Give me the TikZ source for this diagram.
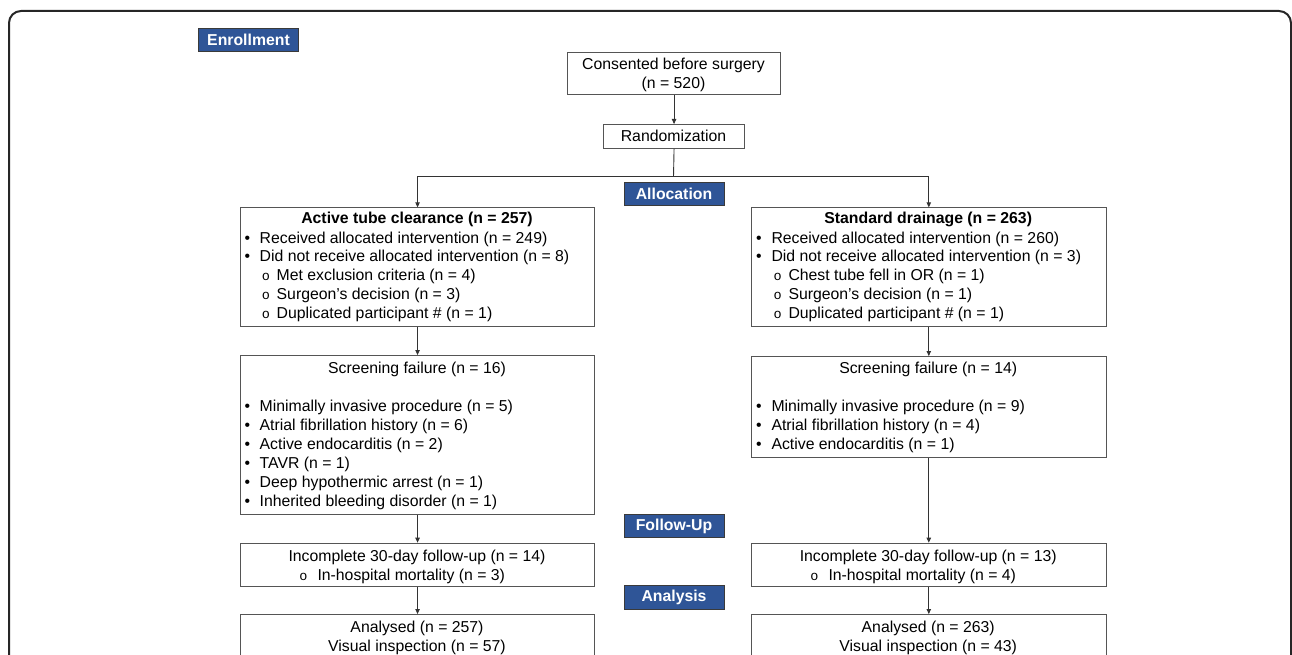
\documentclass[tikz,border=0pt]{standalone}
\usepackage{fontspec}
\setmainfont{Liberation Sans}
\newfontfamily\bulletfont{Liberation Mono}
\usetikzlibrary{arrows.meta}
\definecolor{badgeblue}{HTML}{2F5597}
\definecolor{badgeedge}{HTML}{3A3A3A}
\definecolor{boxgray}{HTML}{555555}
\definecolor{linegray}{HTML}{333333}
\begin{document}
\begin{tikzpicture}[x=1pt,y=-1pt,
  every node/.style={font=\fontsize{15.8}{19}\selectfont},
  box/.style={draw=boxgray,line width=1.1pt,inner sep=0pt,anchor=north west,fill=white},
  badge/.style={draw=badgeedge,line width=1pt,fill=badgeblue,text=white,
    font=\fontsize{15.8}{19}\selectfont\bfseries,inner sep=0pt,
    minimum width=100pt,minimum height=23.5pt},
  arr/.style={draw=linegray,line width=0.9pt,-{Triangle[length=5pt,width=4.5pt]}},
  conn/.style={draw=linegray,line width=0.9pt},
  txt/.style={inner sep=0pt,text height=11.3pt,text depth=0pt,anchor=west},
  ctxt/.style={txt,anchor=center},
  bul/.style={txt,anchor=center},
  sbul/.style={txt,anchor=center,font=\fontsize{13.5}{19}\bulletfont}
]
\clip (0,0) rectangle (1292,655);
\draw[line width=2pt,draw=black!85,rounded corners=12pt] (9,11) rectangle (1291,720);

% badges
\node[badge] (enr) at (248.5,40.2) {Enrollment};
\node[badge] (alloc) at (674,194) {Allocation};
\node[badge] (fup) at (674,526) {Follow-Up};
\node[badge] (anal) at (674,597.4) {Analysis};

% boxes
\node[box,minimum width=213pt,minimum height=42.3pt] (cons) at (567,51.7) {};
\node[box,minimum width=141pt,minimum height=23.7pt] (rand) at (603,124) {};
\node[box,minimum width=354pt,minimum height=118.4pt] (act) at (240,207.3) {};
\node[box,minimum width=354.5pt,minimum height=118.4pt] (std) at (751,207.3) {};
\node[box,minimum width=354pt,minimum height=159.3pt] (scrL) at (240,355) {};
\node[box,minimum width=354.5pt,minimum height=101pt] (scrR) at (751,356) {};
\node[box,minimum width=354pt,minimum height=43pt] (incL) at (240,542.7) {};
\node[box,minimum width=354.5pt,minimum height=43pt] (incR) at (751,542.7) {};
\node[box,minimum width=354pt,minimum height=100pt] (anaL) at (240,614) {};
\node[box,minimum width=354.5pt,minimum height=100pt] (anaR) at (751,614) {};

% connectors
\coordinate (split) at (673.5,176.7);
\draw[arr] (cons.south) -- (rand.north);
\draw[conn] (rand.south) -- (split);
\draw[arr] (split) -| (act.north);
\draw[arr] (split) -| (std.north);
\draw[arr] (act.south) -- (scrL.north);
\draw[arr] (std.south) -- (scrR.north);
\draw[arr] (scrL.south) -- (incL.north);
\draw[arr] (scrR.south) -- (incR.north);
\draw[arr] (incL.south) -- (anaL.north);
\draw[arr] (incR.south) -- (anaR.north);

% text: top
\node[ctxt] (t1) at (673.5,64) {Consented before surgery};
\node[ctxt] (t2) at (673.5,83) {(n = 520)};
\node[ctxt] (t3) at (673.5,136) {Randomization};

% active box
\node[ctxt,font=\fontsize{15.8}{19}\selectfont\bfseries] (a0) at (417,218) {Active tube clearance (n = 257)};
\node[bul] (ab1) at (247.5,237.5) {•};
\node[txt] (a1) at (259.5,237.5) {Received allocated intervention (n = 249)};
\node[bul] (ab2) at (247.5,256.3) {•};
\node[txt] (a2) at (259.5,256.3) {Did not receive allocated intervention (n = 8)};
\node[sbul] (as1) at (266,275.2) {o};
\node[txt] (a3) at (276.5,275.2) {Met exclusion criteria (n = 4)};
\node[sbul] (as2) at (266,294.2) {o};
\node[txt] (a4) at (276.5,294.2) {Surgeon’s decision (n = 3)};
\node[sbul] (as3) at (266,313.2) {o};
\node[txt] (a5) at (276.5,313.2) {Duplicated participant \# (n = 1)};

% standard box
\node[ctxt,font=\fontsize{15.8}{19}\selectfont\bfseries] (s0) at (928.2,218) {Standard drainage (n = 263)};
\node[bul] (sb1) at (759,237.5) {•};
\node[txt] (s1) at (771.3,237.5) {Received allocated intervention (n = 260)};
\node[bul] (sb2) at (759,256.3) {•};
\node[txt] (s2) at (771.3,256.3) {Did not receive allocated intervention (n = 3)};
\node[sbul] (ss1) at (777.7,275.2) {o};
\node[txt] (s3) at (788.3,275.2) {Chest tube fell in OR (n = 1)};
\node[sbul] (ss2) at (777.7,294.2) {o};
\node[txt] (s4) at (788.3,294.2) {Surgeon’s decision (n = 1)};
\node[sbul] (ss3) at (777.7,313.2) {o};
\node[txt] (s5) at (788.3,313.2) {Duplicated participant \# (n = 1)};

% screening left
\node[ctxt] (l0) at (417,368) {Screening failure (n = 16)};
\node[bul] (lb1) at (247.5,406) {•};
\node[txt] (l1) at (259.5,406) {Minimally invasive procedure (n = 5)};
\node[bul] (lb2) at (247.5,425) {•};
\node[txt] (l2) at (259.5,425) {Atrial fibrillation history (n = 6)};
\node[bul] (lb3) at (247.5,444) {•};
\node[txt] (l3) at (259.5,444) {Active endocarditis (n = 2)};
\node[bul] (lb4) at (247.5,463) {•};
\node[txt] (l4) at (259.5,463) {TAVR (n = 1)};
\node[bul] (lb5) at (247.5,482) {•};
\node[txt] (l5) at (259.5,482) {Deep hypothermic arrest (n = 1)};
\node[bul] (lb6) at (247.5,501) {•};
\node[txt] (l6) at (259.5,501) {Inherited bleeding disorder (n = 1)};

% screening right
\node[ctxt] (r0) at (928.2,368) {Screening failure (n = 14)};
\node[bul] (rb1) at (759,406) {•};
\node[txt] (r1) at (771.3,406) {Minimally invasive procedure (n = 9)};
\node[bul] (rb2) at (759,425) {•};
\node[txt] (r2) at (771.3,425) {Atrial fibrillation history (n = 4)};
\node[bul] (rb3) at (759,444) {•};
\node[txt] (r3) at (771.3,444) {Active endocarditis (n = 1)};

% incomplete
\node[ctxt] (il0) at (417,556) {Incomplete 30-day follow-up (n = 14)};
\node[sbul] (ils) at (303.5,575) {o};
\node[txt] (il1) at (317.3,575) {In-hospital mortality (n = 3)};
\node[ctxt] (ir0) at (928.2,556) {Incomplete 30-day follow-up (n = 13)};
\node[sbul] (irs) at (814.5,575) {o};
\node[txt] (ir1) at (828.3,575) {In-hospital mortality (n = 4)};

% analysed
\node[ctxt] (al0) at (417,627) {Analysed (n = 257)};
\node[ctxt] (al1) at (417,646) {Visual inspection (n = 57)};
\node[ctxt] (ar0) at (928.2,627) {Analysed (n = 263)};
\node[ctxt] (ar1) at (928.2,646) {Visual inspection (n = 43)};
\end{tikzpicture}
\end{document}
